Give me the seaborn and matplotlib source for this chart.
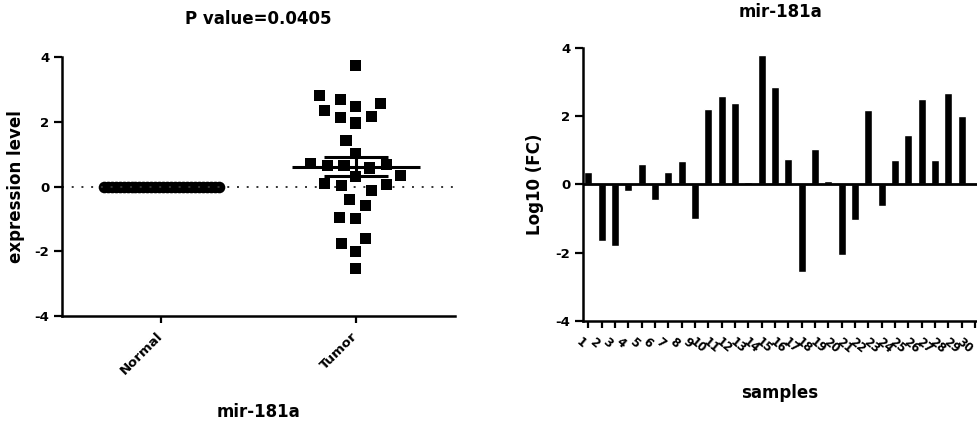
import numpy as np
import pandas as pd
import matplotlib
matplotlib.use("Agg")
import matplotlib.pyplot as plt
import seaborn as sns

# ---------------- data ----------------
groups = ["Normal", "Tumor"]
normal_values = [0.0] * 30
tumor_values = [3.74, 2.68, 2.47, 2.56, 2.81, 2.16, 1.96, 2.14, 2.34, 1.41,
                1.01, 0.72, 0.65, 0.57, 0.65, 0.69, 0.30, 0.33, 0.05, 0.02,
                0.08, -0.13, -0.59, -0.41, -1.00, -0.95, -1.75, -1.60, -2.01, -2.53]
p_title = "P value=0.0405"
left_xlabel = "mir-181a"
left_ylabel = "expression level"

sample_labels = [str(i) for i in range(1, 31)]
log10_fc = [0.35, -1.65, -1.80, -0.20, 0.60, -0.47, 0.37, 0.69, -1.00, 2.20,
            2.60, 2.38, 0.07, 3.78, 2.85, 0.74, -2.58, 1.03, 0.10, -2.07,
            -1.05, 2.18, -0.63, 0.70, 1.43, 2.49, 0.70, 2.68, 1.99, 0.00]
right_title = "mir-181a"
right_xlabel = "samples"
right_ylabel = "Log10 (FC)"
y_ticks = [-4, -2, 0, 2, 4]

# ---------------- style ----------------
sns.set_style("ticks")
plt.rcParams["font.family"] = ["DejaVu Sans"]
plt.rcParams["font.weight"] = "bold"
plt.rcParams["axes.labelweight"] = "bold"
plt.rcParams["axes.titleweight"] = "bold"
plt.rcParams["axes.unicode_minus"] = False
for k in ["text.color", "axes.labelcolor", "xtick.color", "ytick.color", "axes.edgecolor"]:
    plt.rcParams[k] = "black"

W, H = 977, 421
fig = plt.figure(figsize=(W / 100, H / 100), dpi=100)
ax1 = fig.add_axes([62 / W, 105 / H, 393 / W, 259 / H])
ax2 = fig.add_axes([583 / W, 100 / H, 394 / W, 273.3 / H])

# ---------------- left panel: scatter ----------------
df_t = pd.DataFrame({"group": ["Tumor"] * len(tumor_values), "value": tumor_values})
# invisible edge width widens the swarm spacing without enlarging the squares
sns.swarmplot(data=df_t, x="group", y="value", order=groups, ax=ax1,
              marker="s", size=8, color="black", linewidth=3.5, edgecolor="none")

n_norm = len(normal_values)
norm_pos = groups.index("Normal") + np.linspace(-0.295, 0.295, n_norm)
sns.scatterplot(x=norm_pos, y=normal_values, ax=ax1, marker="o", s=70,
                color="black", edgecolor="black", linewidth=0, legend=False)

tpos = groups.index("Tumor")
mean = float(np.mean(tumor_values))
sem = float(np.std(tumor_values, ddof=1) / np.sqrt(len(tumor_values)))
ax1.hlines(mean, tpos - 0.33, tpos + 0.33, color="black", lw=2.2, zorder=6)
ax1.hlines([mean - sem, mean + sem], tpos - 0.165, tpos + 0.165, color="black", lw=2.2, zorder=6)
ax1.vlines(tpos, mean - sem, mean + sem, color="black", lw=2.2, zorder=6)

ax1.axhline(0, color="#333333", lw=1.4, ls=(0, (1, 4)), zorder=1)

ax1.set_xlim(-0.51, 1.51)
ax1.set_ylim(-4, 4)
ax1.set_yticks(y_ticks)
ax1.set_xticks(range(len(groups)))
ax1.set_xticklabels(groups, rotation=45, ha="right", va="center",
                    rotation_mode="anchor", fontsize=9.5)
ax1.tick_params(axis="y", labelsize=9.5, length=6, width=1.6, pad=3)
ax1.tick_params(axis="x", length=5, width=1.6, pad=8)
ax1.set_title(p_title, fontsize=12, pad=24)
ax1.set_xlabel(left_xlabel, fontsize=12)
ax1.set_ylabel(left_ylabel, fontsize=12)
ax1.xaxis.set_label_coords(0.5, -0.335)
ax1.yaxis.set_label_coords(-0.095, 0.5)
for s in ["top", "right"]:
    ax1.spines[s].set_visible(False)
for s in ["left", "bottom"]:
    ax1.spines[s].set_linewidth(1.8)

# ---------------- right panel: bars ----------------
df_b = pd.DataFrame({"sample": sample_labels, "fc": log10_fc})
sns.barplot(data=df_b, x="sample", y="fc", order=sample_labels, ax=ax2,
            color="black", saturation=1, width=0.58, errorbar=None)
ax2.axhline(0, color="black", lw=2.0, zorder=5)
ax2.set_xlim(-0.4, 29.15)
ax2.set_ylim(-4, 4)
ax2.set_yticks(y_ticks)
ax2.set_xticks(range(len(sample_labels)))
ax2.set_xticklabels(sample_labels, rotation=-40, ha="right", va="top", fontsize=8.5)
ax2.tick_params(axis="y", labelsize=9.5, length=6, width=1.6, pad=3)
ax2.tick_params(axis="x", length=5, width=1.6, pad=5)
ax2.set_title(right_title, fontsize=12, pad=22)
ax2.set_xlabel(right_xlabel, fontsize=12)
ax2.set_ylabel(right_ylabel, fontsize=12)
ax2.xaxis.set_label_coords(0.5, -0.23)
ax2.yaxis.set_label_coords(-0.1, 0.5)
for s in ["top", "right"]:
    ax2.spines[s].set_visible(False)
for s in ["left", "bottom"]:
    ax2.spines[s].set_linewidth(1.8)

fig.savefig("out.png", dpi=100)
